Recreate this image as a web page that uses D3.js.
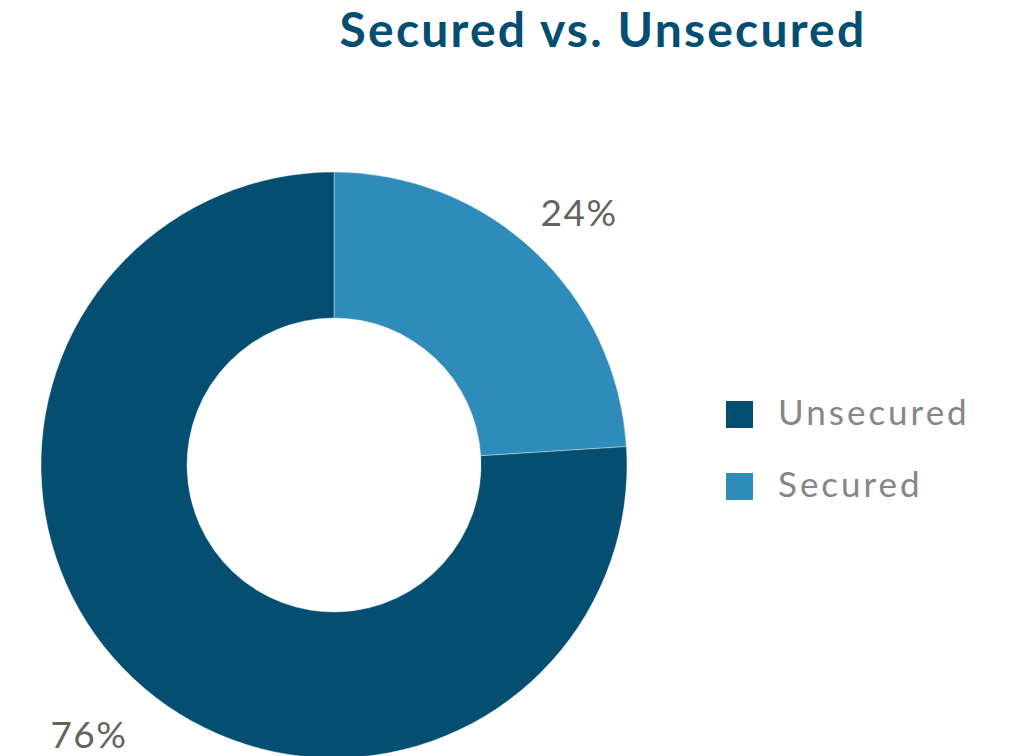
<!DOCTYPE html>
<html>
<head>
<meta charset="utf-8">
<script src="https://cdn.jsdelivr.net/npm/d3@7"></script>
<style>
  body { margin: 0; background: #fff; }
  svg { display: block; }
</style>
</head>
<body>
<svg id="chart" width="1011" height="756"></svg>
<script>
var categories = ["Secured", "Unsecured"];
var values = [24, 76];
var legendOrder = ["Unsecured", "Secured"];
var titleText = "Secured vs. Unsecured";

var colors = d3.scaleOrdinal()
  .domain(categories)
  .range(["#2e8bba", "#034e71"]);

var svg = d3.select("#chart"),
  cx = 334,
  cy = 465,
  outerR = 293,
  innerR = 147,
  labelR = 358;

svg.append("text")
  .attr("x", 603)
  .attr("y", 47)
  .attr("text-anchor", "middle")
  .attr("fill", "#034e71")
  .attr("font-family", "Lato, 'Open Sans', sans-serif")
  .attr("font-weight", "bold")
  .attr("font-size", 48)
  .attr("letter-spacing", 2.2)
  .text(titleText);

var data = categories.map(function(c, i){ return {name: c, value: values[i]}; });

var pie = d3.pie()
  .sort(null)
  .value(function(d){ return d.value; });

var arc = d3.arc().innerRadius(innerR).outerRadius(outerR);
var labelArc = d3.arc().innerRadius(labelR).outerRadius(labelR);

var g = svg.append("g").attr("transform", "translate(" + cx + "," + cy + ")");
var arcs = pie(data);

g.selectAll("path")
  .data(arcs)
  .enter()
  .append("path")
  .attr("d", arc)
  .attr("fill", function(d){ return colors(d.data.name); })
  .attr("stroke", "#fff")
  .attr("stroke-width", 0.4);

g.selectAll("text.lbl")
  .data(arcs)
  .enter()
  .append("text")
  .attr("class", "lbl")
  .attr("transform", function(d){
    var c = labelArc.centroid(d);
    return "translate(" + c[0] + "," + (c[1] + 9) + ")";
  })
  .attr("text-anchor", "middle")
  .attr("dy", "0.35em")
  .attr("fill", "#66635e")
  .attr("font-family", "Lato, 'Open Sans', sans-serif")
  .attr("font-size", 37)
  .attr("letter-spacing", 1.5)
  .text(function(d){ return d.data.value + "%"; });

var legend = svg.append("g").attr("transform", "translate(726,401)");
var items = legend.selectAll("g")
  .data(legendOrder)
  .enter()
  .append("g")
  .attr("transform", function(d, i){ return "translate(0," + (i * 72) + ")"; });

items.append("rect")
  .attr("width", 27)
  .attr("height", 27)
  .attr("fill", function(d){ return colors(d); });

items.append("text")
  .attr("x", 52)
  .attr("y", 24)
  .attr("fill", "#868686")
  .attr("font-family", "Lato, 'Open Sans', sans-serif")
  .attr("font-size", 35)
  .attr("letter-spacing", 3)
  .text(function(d){ return d; });
</script>
</body>
</html>
